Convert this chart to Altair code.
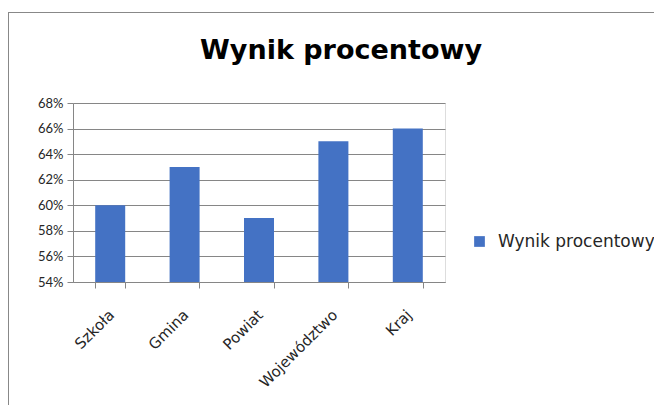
import altair as alt
import pandas as pd

categories = ["Szkoła", "Gmina", "Powiat", "Województwo", "Kraj"]
values = [0.60, 0.63, 0.59, 0.65, 0.66]
series_name = "Wynik procentowy"
y_ticks = [0.54, 0.56, 0.58, 0.60, 0.62, 0.64, 0.66, 0.68]

df = pd.DataFrame({"kategoria": categories, "wynik": values, "seria": series_name})
title_df = pd.DataFrame({"t": [series_name]})

FONT = "Lato"
WIDE = "DejaVu Sans"
W, H = 372, 179
PL, PT = 65, 95

bars = alt.Chart(df).mark_bar(size=30, color="#4472C4").encode(
    x=alt.X("kategoria:N", sort=categories, title=None,
            scale=alt.Scale(paddingInner=0.6, paddingOuter=0.3),
            axis=alt.Axis(labelAngle=-45, labelFontSize=15, labelColor="#262626",
                          labelFont=WIDE, tickBand="extent", tickSize=6,
                          tickColor="#868686", domainColor="#868686",
                          labelPadding=19, labelOffset=-4, grid=False)),
    y=alt.Y("wynik:Q", title=None,
            scale=alt.Scale(domain=[0.54, 0.68], zero=False, nice=False),
            axis=alt.Axis(values=y_ticks, format=".0%", labelFontSize=13,
                          labelColor="#262626", labelFont=FONT, tickSize=6,
                          tickColor="#868686", domainColor="#868686",
                          gridColor="#868686", gridWidth=1, labelPadding=4)),
    y2=alt.Y2(datum=0.54),
    fill=alt.Fill("seria:N", scale=alt.Scale(range=["#4472C4"]),
                  legend=alt.Legend(title=None, orient="none", legendX=398, legendY=130,
                                    symbolType="square", symbolSize=115,
                                    labelFontSize=17, labelFont=WIDE, labelOffset=10,
                                    labelColor="#262626")),
)

border = alt.Chart(df).mark_rect(fill=None, stroke="#888888", strokeWidth=1).encode(
    x=alt.value(-PL + 0.5), x2=alt.value(W + 400),
    y=alt.value(-PT + 4.5), y2=alt.value(H + 300),
)

title = alt.Chart(title_df).mark_text(
    font=WIDE, fontSize=27, fontWeight="bold", color="#000000",
    align="center", baseline="alphabetic"
).encode(text="t:N", x=alt.value(268), y=alt.value(-44))

chart = alt.layer(border, bars, title).properties(
    width=W, height=H,
    autosize=alt.AutoSizeParams(type="none"),
    padding={"left": PL, "top": PT, "right": 646 - PL - W, "bottom": 397 - PT - H},
).configure_view(stroke=None).configure(background="white")

chart.save("out.html", embed_options={"renderer": "svg", "actions": False})
